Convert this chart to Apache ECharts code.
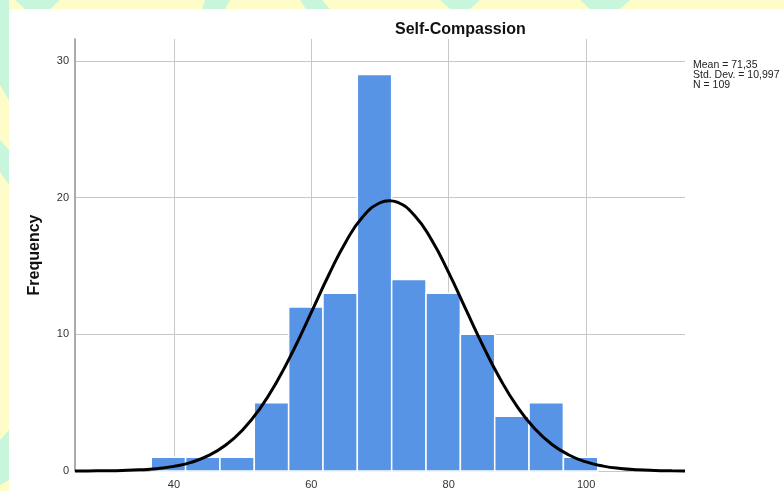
<!DOCTYPE html>
<html>
<head>
<meta charset="utf-8">
<script src="https://cdn.jsdelivr.net/npm/echarts@6/dist/echarts.min.js"></script>
<style>
  html, body { margin: 0; padding: 0; background: #fefdc9; }
  #chart { width: 784px; height: 491px; }
</style>
</head>
<body>
<div id="chart"></div>
<script>
// ---- data ----
const binStart = [36.7, 41.7, 46.7, 51.7, 56.7, 61.7, 66.7, 71.7, 76.7, 81.7, 86.7, 91.7, 96.7];
const binWidth = 5;
const counts   = [1, 1, 1, 5, 12, 13, 29, 14, 13, 10, 4, 5, 1];

const curveX = [25.6, 27.5, 30, 32.5, 35, 37.5, 40, 42.5, 45, 47.5, 50, 52.5, 55, 57.5, 60, 62.5, 65, 67.5, 70, 71.35,
                72.5, 75, 77.5, 80, 82.5, 85, 87.5, 90, 92.5, 95, 97.5, 100, 102.5, 105, 107.5, 110, 112.5, 114.4];
const curveY = [0.003, 0.007, 0.017, 0.039, 0.084, 0.173, 0.34, 0.634, 1.12, 1.882, 3.003, 4.551, 6.548, 8.944, 11.607, 14.30, 16.74, 18.60, 19.62, 19.77,
                19.66, 18.71, 16.91, 14.51, 11.82, 9.152, 6.726, 4.693, 3.110, 1.957, 1.170, 0.664, 0.358, 0.183, 0.089, 0.041, 0.018, 0.009];

const xTicks = [40, 60, 80, 100];
const yTicks = [0, 10, 20, 30];

const titleText = 'Self-Compassion';
const yName = 'Frequency';
const statsLines = ['Mean = 71,35', 'Std. Dev. = 10,997', 'N = 109'];

// ---- chart ----
const chart = echarts.init(document.getElementById('chart'), null, { renderer: 'canvas' });

const barData = binStart.map((s, i) => [s, s + binWidth, counts[i]]);
const lineData = curveX.map((x, i) => [x, curveY[i]]);

const mint = '#c8f6dc';

const option = {
  backgroundColor: '#fefdc9',
  animation: false,
  graphic: [
    // decorative background swooshes
    { type: 'polygon', z: -10, shape: { points: [[15,0],[60,0],[50,9],[25,9]] }, style: { fill: mint } },
    { type: 'polygon', z: -10, shape: { points: [[205,0],[230,0],[225,9],[202,9]] }, style: { fill: mint } },
    { type: 'polygon', z: -10, shape: { points: [[300,0],[322,0],[330,9],[306,9]] }, style: { fill: mint } },
    { type: 'polygon', z: -10, shape: { points: [[440,0],[480,0],[470,9],[450,9]] }, style: { fill: mint } },
    { type: 'polygon', z: -10, shape: { points: [[580,0],[630,0],[620,9],[590,9]] }, style: { fill: mint } },
    { type: 'polygon', z: -10, shape: { points: [[0,0],[9,0],[9,100],[0,85]] }, style: { fill: mint } },
    { type: 'polygon', z: -10, shape: { points: [[0,140],[9,150],[9,185],[0,172]] }, style: { fill: mint } },
    { type: 'polygon', z: -10, shape: { points: [[0,440],[9,430],[9,480],[0,485]] }, style: { fill: mint } },
    // white panel
    { type: 'rect', z: -5, shape: { x: 9, y: 9, width: 800, height: 500 }, style: { fill: '#ffffff' } },
    // stats text
    {
      type: 'text', left: 693, top: 60, z: 10,
      style: {
        text: statsLines.join('\n'),
        font: '10.5px "Liberation Sans", Arial, sans-serif',
        fill: '#222', lineHeight: 10
      }
    }
  ],
  title: {
    text: titleText,
    left: 390, top: 17,
    textStyle: { fontFamily: '"Liberation Sans", Arial, sans-serif', fontWeight: 'bold', fontSize: 16, color: '#111' }
  },
  grid: { left: 75, right: 99, top: 39, bottom: 20, containLabel: false },
  xAxis: {
    type: 'value', min: 25.6, max: 114.4,
    axisLine: { show: false },
    axisTick: { show: false, customValues: xTicks },
    axisLabel: { customValues: xTicks, color: '#333', fontSize: 11, fontFamily: '"Liberation Sans", Arial, sans-serif', margin: 8 },
    splitLine: { show: true, lineStyle: { color: '#c8c8c8', width: 1 } }
  },
  yAxis: {
    type: 'value', min: 0, max: 31.6,
    name: yName, nameLocation: 'middle', nameGap: 32, nameRotate: 90,
    nameTextStyle: { fontFamily: '"Liberation Sans", Arial, sans-serif', fontWeight: 'bold', fontSize: 16, color: '#111' },
    axisLine: { show: true, lineStyle: { color: '#8f8f8f', width: 1.5 } },
    axisTick: { show: false, customValues: yTicks },
    axisLabel: { customValues: yTicks, color: '#333', fontSize: 11, fontFamily: '"Liberation Sans", Arial, sans-serif', margin: 6 },
    splitLine: { show: true, lineStyle: { color: '#c8c8c8', width: 1 } }
  },
  series: [
    {
      type: 'custom',
      data: barData,
      encode: { x: [0, 1], y: 2 },
      z: 2,
      renderItem: function (params, api) {
        const p0 = api.coord([api.value(0), api.value(2)]);
        const p1 = api.coord([api.value(1), 0]);
        return {
          type: 'rect',
          shape: { x: p0[0], y: p0[1], width: p1[0] - p0[0], height: p1[1] - p0[1] },
          style: { fill: '#5794e6', stroke: '#ffffff', lineWidth: 1.5 }
        };
      }
    },
    {
      type: 'line',
      data: lineData,
      smooth: true,
      showSymbol: false,
      symbol: 'none',
      z: 5,
      clip: false,
      lineStyle: { color: '#000', width: 3 }
    }
  ]
};

chart.setOption(option);
</script>
</body>
</html>
